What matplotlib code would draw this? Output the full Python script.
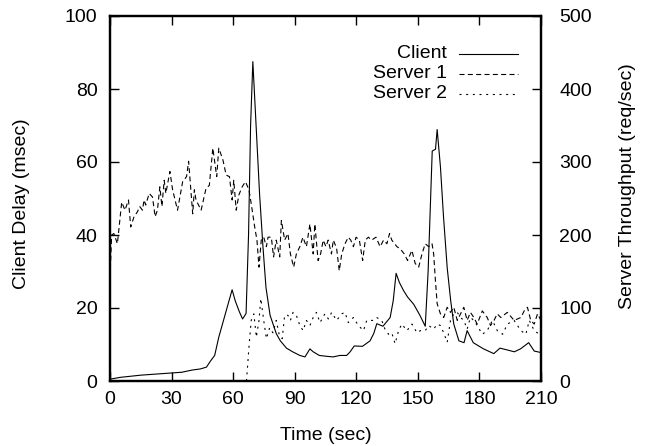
import matplotlib
matplotlib.use("Agg")
import matplotlib.pyplot as plt
from matplotlib.lines import Line2D

plt.rcParams['font.family'] = ['Liberation Sans', 'DejaVu Sans']

# ---- data ----
client_t = [0, 5, 10, 15, 20, 25, 30, 35, 40, 44, 47, 49, 51, 53, 55, 57, 59.5, 61, 63,
            64.6, 66.3, 67.5, 68.5, 69.6, 71, 72.9, 74.5, 76, 78, 81, 83, 86, 89, 92.5,
            95, 97.4, 99, 102, 105, 108.7, 112, 115.3, 117, 119, 123, 126.7, 128.5, 130,
            133, 136.5, 138, 139.4, 141, 143, 145, 148, 151, 153.6, 155, 157, 158.6,
            159.4, 161, 162.5, 164.3, 166, 167.5, 170, 172.5, 174, 177, 182, 187, 190,
            193.6, 197, 200, 204, 206.7, 210]
client_delay = [0.5, 1.0, 1.3, 1.6, 1.8, 2.0, 2.2, 2.4, 3.0, 3.3, 3.8, 5.5, 7, 12, 16, 20,
                25, 22, 19, 17, 18.5, 40, 70, 87.5, 72, 51, 37, 25.6, 18, 13, 11, 9, 8, 7,
                6.6, 8.8, 8, 7, 6.8, 6.6, 7, 7, 8, 9.6, 9.5, 11, 13, 15.7, 15, 17.4, 22,
                29.5, 27, 24.8, 23, 21, 18, 15, 30, 63, 63.5, 68.9, 58.7, 45, 31, 22, 15.6,
                11, 10.5, 13.8, 10.5, 8.8, 7.5, 9, 8.5, 8, 8.8, 10.5, 8.2, 7.8]

server1_t = [0, 0.8, 1.9, 3.6, 5.7, 7.3, 9.0, 10.1, 11.7, 13.4, 14.5, 15.8, 16.6, 17.4, 19.1,
             20.7, 22, 23.1, 24.3, 25.3, 26.4, 27.2, 29.2, 30.5, 32.9, 35.4, 37.3, 38.3,
             40.3, 41.1, 41.9, 44.4, 46.8, 48.4, 50.1, 52, 53, 55, 56.6, 58.2, 59.5, 60.3,
             61.5, 62.8, 64.4, 66.0, 67.7, 68.8, 70.5, 71.6, 72.6, 73.7, 74.9, 76.2, 77,
             78.6, 79.7, 81, 82.7, 83.5, 85.1, 86.7, 87.9, 89.5, 90.8, 92.5, 94, 95.7, 97.4,
             99, 99.8, 101.4, 102.6, 103.9, 105.2, 106.3, 107.9, 108.8, 110.4, 111.7, 112.9,
             114.5, 116.1, 117.3, 118.6, 119.9, 121.5, 123.1, 124.4, 125.9, 127.5, 129.6,
             131.6, 133.3, 134.9, 136.2, 137.3, 139.8, 141.4, 143.4, 145, 147.1, 148.7,
             150.4, 152, 153.6, 155.3, 156.9, 157.7, 158.5, 159.4, 161, 162.6, 164.3,
             165.9, 167.5, 169.2, 170.8, 172.4, 174, 175.6, 177.3, 178.9, 181.4, 183.8,
             185.4, 187.1, 188.7, 190.4, 193.6, 196.9, 200.2, 201.8, 203.4, 205, 206.7,
             208.3, 210]
server1_tput = [142, 200, 202, 188, 245, 234, 248, 211, 225, 232, 239, 234, 248, 241, 257,
                252, 225, 234, 266, 239, 275, 257, 287, 262, 234, 273, 280, 301,
                229, 262, 248, 234, 264, 268, 319, 280, 319, 303, 282, 280, 248, 275,
                234, 255, 266, 273, 262, 243, 211, 193, 156, 193, 197, 184, 197,
                197, 170, 193, 170, 220, 193, 202, 174, 156, 174, 184, 197, 184, 215,
                174, 215, 165, 174, 193, 184, 193, 174, 193, 182, 151, 174,
                188, 197, 193, 184, 197, 193, 165, 193, 197, 193, 197,
                184, 193, 188, 202, 193, 184, 181, 174, 165, 179, 161,
                156, 174, 188, 184, 188, 174, 140, 106, 92, 87, 101,
                94, 101, 83, 92, 101, 83, 94, 87, 78, 96, 87,
                76, 83, 92, 87, 94, 83, 87, 96, 101, 83, 78,
                92, 83]

server2_t = [66.5, 67.8, 68.8, 70.1, 71.3, 72.6, 73.5, 74.9, 76.2, 77.8, 79.4, 81, 82.4,
             83.9, 85.1, 86.7, 87.9, 89.2, 90.8, 92.5, 94.1, 95.7, 97.4, 99, 100.6, 102.3,
             104.7, 106.4, 108, 110.4, 112.9, 114.5, 116.1, 118.6, 121, 123.5, 125.1,
             126.7, 128.3, 129.9, 132.4, 134, 135.7, 137.3, 138.9, 140.6, 142.2, 144.7,
             147.1, 149.6, 151.2, 153.6, 155.3, 157.7, 159.4, 161, 162.6, 164.3, 165.9,
             167.5, 169.2, 170.8, 172.4, 174, 175.6, 177.3, 178.9, 181.4, 183.8, 186.3,
             188.7, 191.3, 193.6, 196.9, 200.2, 202.6, 204.3, 206.7, 209.2, 210]
server2_tput = [0, 50, 83, 92, 60, 83, 113, 83, 58, 73, 66, 83, 64,
                58, 90, 90, 83, 94, 90, 76, 69, 83, 76, 87, 94, 80,
                92, 85, 94, 83, 92, 94, 80, 87, 76, 69, 83,
                83, 83, 87, 83, 71, 64, 66, 51, 69, 78, 69,
                78, 66, 69, 69, 76, 71, 78, 76, 66, 53, 83,
                92, 94, 87, 83, 71, 87, 83, 76, 64, 69, 83,
                69, 64, 78, 83, 69, 64, 83, 69, 64, 70]

series_labels = ['Client', 'Server 1', 'Server 2']
x_ticks = [0, 30, 60, 90, 120, 150, 180, 210]
y_ticks = [0, 20, 40, 60, 80, 100]
y2_ticks = [0, 100, 200, 300, 400, 500]

# ---- figure ----
W, H = 648, 446
fig = plt.figure(figsize=(W / 100, H / 100), dpi=100)
L, R, T, B = 110, 541, 16, 381
ax = fig.add_axes([L / W, 1 - B / H, (R - L) / W, (B - T) / H])
ax2 = ax.twinx()

FS = 14
lw = 0.8
styles = [dict(), dict(dashes=(4.5, 3.0)), dict(dashes=(1.8, 4.2))]
ax.plot(client_t, client_delay, color='black', lw=lw, **styles[0])
ax2.plot(server1_t, server1_tput, color='black', lw=lw, **styles[1])
ax2.plot(server2_t, server2_tput, color='black', lw=lw, **styles[2])

ax.set_xlim(0, 210)
ax.set_ylim(0, 100)
ax2.set_ylim(0, 500)
ax.set_xticks(x_ticks)
ax.set_yticks(y_ticks)
ax2.set_yticks(y2_ticks)

for a in (ax, ax2):
    for s in a.spines.values():
        s.set_linewidth(1.6)
ax.tick_params(axis='x', direction='in', top=True, length=6.5, width=1.0,
               labelsize=FS, pad=7.5)
ax.tick_params(axis='y', direction='in', right=False, length=6.5, width=1.0,
               labelsize=FS, pad=9)
ax2.tick_params(axis='y', direction='in', length=6.5, width=1.0, labelsize=FS, pad=13)

ax.set_xlabel('Time (sec)', fontsize=FS)
ax.xaxis.set_label_coords(0.5, (B - 435) / (B - T))
ax.xaxis.label.set_va('center')
ax.set_ylabel('Client Delay (msec)', fontsize=FS)
ax.yaxis.set_label_coords((22 - L) / (R - L), (B - 204) / (B - T))
ax.yaxis.label.set_va('center')
ax2.set_ylabel('Server Throughput (req/sec)', fontsize=FS)
ax2.yaxis.set_label_coords((628 - L) / (R - L), (B - 186) / (B - T))
ax2.yaxis.label.set_va('center')

# legend (gnuplot style: right-aligned text, sample line on the right)
row_px = [54, 73.5, 93.5]
text_x = (447 - L) / (R - L)
h0, h1 = (459 - L) / (R - L), (518 - L) / (R - L)
for lab, st, ypx in zip(series_labels, styles, row_px):
    yf = (B - ypx) / (B - T)
    ax2.text(text_x, yf, lab, transform=ax2.transAxes, ha='right', va='center',
             fontsize=FS)
    ax2.add_line(Line2D([h0, h1], [yf, yf], transform=ax2.transAxes, color='black',
                        lw=lw, **st))

fig.savefig('out.png', dpi=100)
